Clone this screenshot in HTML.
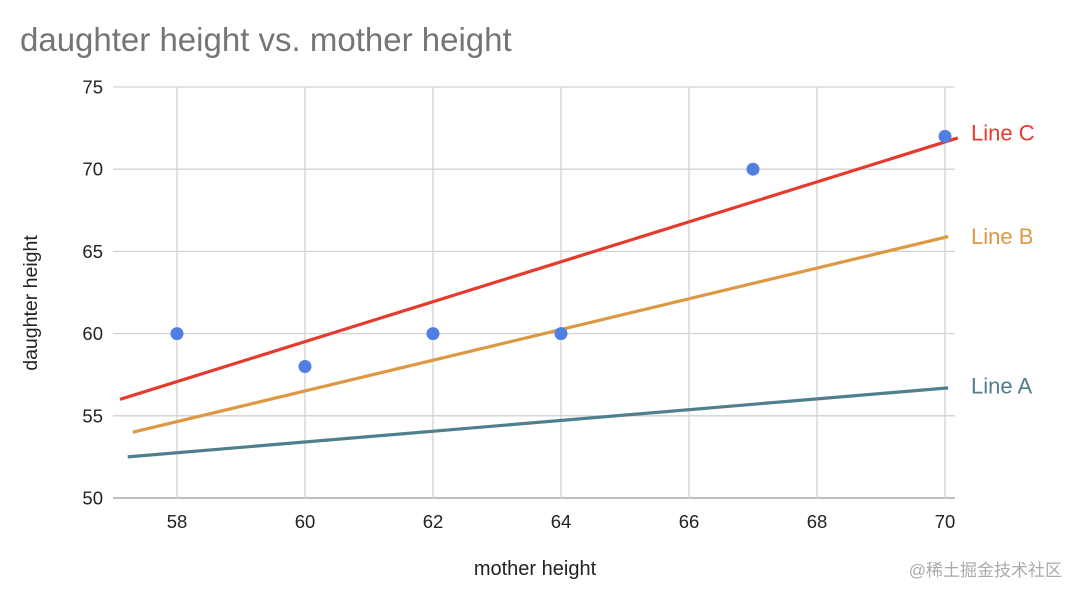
<!DOCTYPE html>
<html><head><meta charset="utf-8"><style>
body{margin:0;background:#fff;font-family:"Liberation Sans","Noto Sans CJK SC",sans-serif;}
svg text{font-family:"Liberation Sans","Noto Sans CJK SC",sans-serif;}
</style></head><body>
<svg id="chart" width="1080" height="598" xmlns="http://www.w3.org/2000/svg">
<text x="20" y="51" font-size="33" fill="#757575">daughter height vs. mother height</text>
<g id="grid"></g><g id="lines"></g><g id="points"></g><g id="labels"></g>
<text x="535" y="575" font-size="20" text-anchor="middle" fill="#222">mother height</text>
<text transform="translate(37,303) rotate(-90)" font-size="19.5" text-anchor="middle" fill="#222">daughter height</text>
<text x="1062" y="576" font-size="17" text-anchor="end" fill="#aaa">@稀土掘金技术社区</text>
</svg>
<script>
const xTicks=[58,60,62,64,66,68,70];
const yTicks=[50,55,60,65,70,75];
const pointX=[58,60,62,64,67,70];
const pointY=[60,58,60,60,70,72];
const lineNames=["Line A","Line B","Line C"];
const lineX0=[57.23,57.31,57.11];
const lineY0=[52.5,54.0,56.0];
const lineX1=[70.05,70.05,70.2];
const lineY1=[56.7,65.9,71.9];
const lineColors=["#4f7f8c","#dd9843","#e53a2c"];
const labelY=[56.8,65.9,72.2];
const X=v=>177+(v-58)*64;
const Y=v=>498-(v-50)*16.44;
const NS="http://www.w3.org/2000/svg";
function mk(p,t,a){const e=document.createElementNS(NS,t);for(const k in a)e.setAttribute(k,a[k]);document.getElementById(p).appendChild(e);return e;}
yTicks.forEach(v=>{
 const l=mk("grid","line",{x1:113,x2:955,y1:Y(v),y2:Y(v),stroke:v===50?"#999":"#d3d3d3","stroke-width":1.3});
 
 
 const t=mk("grid","text",{x:103,y:Y(v)+6.5,"font-size":18.5,"text-anchor":"end",fill:"#222"});t.textContent=v;
 
 
});
xTicks.forEach(v=>{
 const l=mk("grid","line",{x1:X(v),x2:X(v),y1:Y(75),y2:Y(50),stroke:"#d3d3d3","stroke-width":1.3});
 
 
 const t=mk("grid","text",{x:X(v),y:528,"font-size":18.5,"text-anchor":"middle",fill:"#222"});t.textContent=v;
 
 
});
lineNames.forEach((n,i)=>{
 const l=mk("lines","line",{x1:X(lineX0[i]),y1:Y(lineY0[i]),x2:X(lineX1[i]),y2:Y(lineY1[i]),stroke:lineColors[i],"stroke-width":3.2});
 
 
 const t=mk("labels","text",{x:971,y:Y(labelY[i])+7.5,"font-size":22,fill:lineColors[i]});t.textContent=n;
 
 
});
pointX.forEach((v,i)=>{
 const c=mk("points","circle",{cx:X(v),cy:Y(pointY[i]),r:6.5,fill:"#4f7fe0"});
 
 
});
</script>
</body></html>
